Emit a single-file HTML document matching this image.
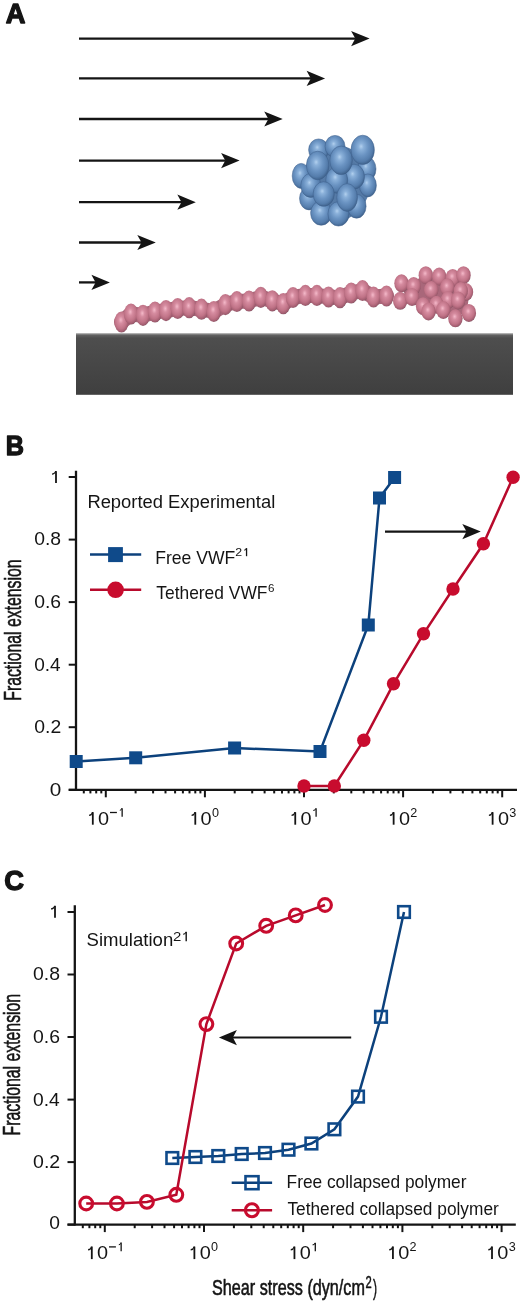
<!DOCTYPE html>
<html><head><meta charset="utf-8"><title>Figure</title>
<style>html,body{margin:0;padding:0;background:#fff;}svg{display:block;will-change:transform;}</style></head>
<body><svg width="520" height="1302" viewBox="0 0 520 1302">
<rect width="520" height="1302" fill="#fff"/>
<defs>
<radialGradient id="gb" cx="0.45" cy="0.42" r="0.6" fx="0.43" fy="0.38">
<stop offset="0" stop-color="#b2d0ee"/><stop offset="0.18" stop-color="#8bb1da"/>
<stop offset="0.5" stop-color="#6a93c2"/><stop offset="0.8" stop-color="#557dac"/><stop offset="0.94" stop-color="#446893"/><stop offset="1" stop-color="#385a84"/></radialGradient>
<radialGradient id="gp" cx="0.45" cy="0.42" r="0.6" fx="0.45" fy="0.4">
<stop offset="0" stop-color="#f4b9c9"/><stop offset="0.28" stop-color="#d68ca0"/>
<stop offset="0.68" stop-color="#c07387"/><stop offset="0.9" stop-color="#a25d70"/><stop offset="1" stop-color="#7f5160"/></radialGradient>
<linearGradient id="gs" x1="0" y1="0" x2="0" y2="1">
<stop offset="0" stop-color="#a8a8a8"/><stop offset="0.035" stop-color="#606060"/><stop offset="0.08" stop-color="#4e4e4e"/><stop offset="1" stop-color="#3f3f3f"/></linearGradient>
</defs>
<text x="5.77" y="23.15" font-family="Liberation Sans, sans-serif" font-weight="bold" font-size="27.7" textLength="19.73" lengthAdjust="spacingAndGlyphs" fill="#141414" stroke="#141414" stroke-width="1.3" stroke-linejoin="round">A</text>
<line x1="79" y1="38.6" x2="355.8" y2="38.6" stroke="#141414" stroke-width="2.3"/>
<polygon points="369.6,38.6 351.1,31.0 355.3,38.6 351.1,46.2" fill="#141414"/>
<line x1="79" y1="78.4" x2="311.3" y2="78.4" stroke="#141414" stroke-width="2.3"/>
<polygon points="325.1,78.4 306.6,70.8 310.8,78.4 306.6,86.0" fill="#141414"/>
<line x1="79" y1="119.0" x2="268.9" y2="119.0" stroke="#141414" stroke-width="2.3"/>
<polygon points="282.7,119.0 264.2,111.4 268.4,119.0 264.2,126.6" fill="#141414"/>
<line x1="79" y1="160.6" x2="225.8" y2="160.6" stroke="#141414" stroke-width="2.3"/>
<polygon points="239.6,160.6 221.1,153.0 225.3,160.6 221.1,168.2" fill="#141414"/>
<line x1="79" y1="202.2" x2="182.0" y2="202.2" stroke="#141414" stroke-width="2.3"/>
<polygon points="195.8,202.2 177.3,194.6 181.5,202.2 177.3,209.8" fill="#141414"/>
<line x1="79" y1="242.5" x2="142.0" y2="242.5" stroke="#141414" stroke-width="2.3"/>
<polygon points="155.8,242.5 137.3,234.9 141.5,242.5 137.3,250.1" fill="#141414"/>
<line x1="79" y1="282.4" x2="96.1" y2="282.4" stroke="#141414" stroke-width="2.3"/>
<polygon points="109.9,282.4 91.4,274.8 95.6,282.4 91.4,290.0" fill="#141414"/>
<rect x="76" y="333.2" width="437" height="61.6" fill="url(#gs)"/>
<polyline points="121.5,322 131,314 143,315.3 155,312 166,310.6 177.7,308.5 189.2,307.7 201.5,309.2 213.8,311.5 225.4,304.6 236.9,301.5 249,301 260.8,297.3 272.3,300.8 283.3,303.7 293,297.5 305.4,295.4 316.9,295.4 328.5,297 340,297.7 351.2,293 362.5,290.5 373.5,297 386.5,296" fill="none" stroke="#a9677a" stroke-width="15" stroke-linejoin="round" stroke-linecap="round"/>
<ellipse cx="121.5" cy="322" rx="7.1" ry="10.6" fill="url(#gp)"/>
<ellipse cx="131" cy="314" rx="7.1" ry="10.6" fill="url(#gp)"/>
<ellipse cx="143" cy="315.3" rx="7.1" ry="10.6" fill="url(#gp)"/>
<ellipse cx="155" cy="312" rx="7.1" ry="10.6" fill="url(#gp)"/>
<ellipse cx="166" cy="310.6" rx="7.1" ry="10.6" fill="url(#gp)"/>
<ellipse cx="177.7" cy="308.5" rx="7.1" ry="10.6" fill="url(#gp)"/>
<ellipse cx="189.2" cy="307.7" rx="7.1" ry="10.6" fill="url(#gp)"/>
<ellipse cx="201.5" cy="309.2" rx="7.1" ry="10.6" fill="url(#gp)"/>
<ellipse cx="213.8" cy="311.5" rx="7.1" ry="10.6" fill="url(#gp)"/>
<ellipse cx="225.4" cy="304.6" rx="7.1" ry="10.6" fill="url(#gp)"/>
<ellipse cx="236.9" cy="301.5" rx="7.1" ry="10.6" fill="url(#gp)"/>
<ellipse cx="249" cy="301" rx="7.1" ry="10.6" fill="url(#gp)"/>
<ellipse cx="260.8" cy="297.3" rx="7.1" ry="10.6" fill="url(#gp)"/>
<ellipse cx="272.3" cy="300.8" rx="7.1" ry="10.6" fill="url(#gp)"/>
<ellipse cx="283.3" cy="303.7" rx="7.1" ry="10.6" fill="url(#gp)"/>
<ellipse cx="293" cy="297.5" rx="7.1" ry="10.6" fill="url(#gp)"/>
<ellipse cx="305.4" cy="295.4" rx="7.1" ry="10.6" fill="url(#gp)"/>
<ellipse cx="316.9" cy="295.4" rx="7.1" ry="10.6" fill="url(#gp)"/>
<ellipse cx="328.5" cy="297" rx="7.1" ry="10.6" fill="url(#gp)"/>
<ellipse cx="340" cy="297.7" rx="7.1" ry="10.6" fill="url(#gp)"/>
<ellipse cx="351.2" cy="293" rx="7.1" ry="10.6" fill="url(#gp)"/>
<ellipse cx="362.5" cy="290.5" rx="7.1" ry="10.6" fill="url(#gp)"/>
<ellipse cx="373.5" cy="297" rx="7.1" ry="10.6" fill="url(#gp)"/>
<ellipse cx="386.5" cy="296" rx="7.1" ry="10.6" fill="url(#gp)"/>
<path d="M404,286 C412,278 440,272 462,276 C470,285 470,300 466,312 C458,318 440,314 428,310 C415,306 404,300 404,292 Z" fill="#a9677a"/>
<ellipse cx="401.5" cy="283.3" rx="7.2" ry="9" fill="url(#gp)"/>
<ellipse cx="413.7" cy="286" rx="7.2" ry="9" fill="url(#gp)"/>
<ellipse cx="425.8" cy="275.2" rx="7.2" ry="9" fill="url(#gp)"/>
<ellipse cx="439.2" cy="276.5" rx="7.2" ry="9" fill="url(#gp)"/>
<ellipse cx="452.7" cy="277.9" rx="7.2" ry="9" fill="url(#gp)"/>
<ellipse cx="463.5" cy="275.2" rx="7.2" ry="9" fill="url(#gp)"/>
<ellipse cx="466" cy="292" rx="7.2" ry="9" fill="url(#gp)"/>
<ellipse cx="447.3" cy="287.3" rx="7.2" ry="9" fill="url(#gp)"/>
<ellipse cx="431.2" cy="290" rx="7.2" ry="9" fill="url(#gp)"/>
<ellipse cx="460.8" cy="291" rx="7.2" ry="9" fill="url(#gp)"/>
<ellipse cx="400.2" cy="300.8" rx="7.2" ry="9" fill="url(#gp)"/>
<ellipse cx="412" cy="297" rx="7.2" ry="9" fill="url(#gp)"/>
<ellipse cx="448" cy="300" rx="7.2" ry="9" fill="url(#gp)"/>
<ellipse cx="458.1" cy="300.4" rx="7.2" ry="9" fill="url(#gp)"/>
<ellipse cx="423.1" cy="306.2" rx="7.2" ry="9" fill="url(#gp)"/>
<ellipse cx="436.5" cy="304.8" rx="7.2" ry="9" fill="url(#gp)"/>
<ellipse cx="428.5" cy="311.5" rx="7.2" ry="9" fill="url(#gp)"/>
<ellipse cx="443.3" cy="310" rx="7.2" ry="9" fill="url(#gp)"/>
<ellipse cx="468.9" cy="312.9" rx="7.2" ry="9" fill="url(#gp)"/>
<ellipse cx="455.4" cy="318.3" rx="7.2" ry="9" fill="url(#gp)"/>
<ellipse cx="336" cy="183" rx="34" ry="38" fill="#557aa6"/>
<ellipse cx="318.6" cy="149.9" rx="10" ry="11" fill="url(#gb)" stroke="#3d5f8a" stroke-width="0.5"/>
<ellipse cx="335.0" cy="146.4" rx="10" ry="11" fill="url(#gb)" stroke="#3d5f8a" stroke-width="0.5"/>
<ellipse cx="367.0" cy="168.9" rx="9" ry="12" fill="url(#gb)" stroke="#3d5f8a" stroke-width="0.5"/>
<ellipse cx="301.2" cy="175.9" rx="9" ry="12.5" fill="url(#gb)" stroke="#3d5f8a" stroke-width="0.5"/>
<ellipse cx="367.9" cy="185.4" rx="8.5" ry="11.5" fill="url(#gb)" stroke="#3d5f8a" stroke-width="0.5"/>
<ellipse cx="309.0" cy="198.4" rx="9.5" ry="11.5" fill="url(#gb)" stroke="#3d5f8a" stroke-width="0.5"/>
<ellipse cx="310.8" cy="185.4" rx="10" ry="12" fill="url(#gb)" stroke="#3d5f8a" stroke-width="0.5"/>
<ellipse cx="354.0" cy="176.7" rx="10.5" ry="12.5" fill="url(#gb)" stroke="#3d5f8a" stroke-width="0.5"/>
<ellipse cx="356.6" cy="206.2" rx="9.5" ry="12" fill="url(#gb)" stroke="#3d5f8a" stroke-width="0.5"/>
<ellipse cx="336.7" cy="180.2" rx="11" ry="13" fill="url(#gb)" stroke="#3d5f8a" stroke-width="0.5"/>
<ellipse cx="321.2" cy="213.1" rx="10.6" ry="12.2" fill="url(#gb)" stroke="#3d5f8a" stroke-width="0.5"/>
<ellipse cx="338.5" cy="213.9" rx="10.6" ry="12.2" fill="url(#gb)" stroke="#3d5f8a" stroke-width="0.5"/>
<ellipse cx="323.7" cy="194.0" rx="10.6" ry="12.3" fill="url(#gb)" stroke="#3d5f8a" stroke-width="0.5"/>
<ellipse cx="347.1" cy="197.5" rx="10.4" ry="13.9" fill="url(#gb)" stroke="#3d5f8a" stroke-width="0.5"/>
<ellipse cx="317.7" cy="165.5" rx="11.3" ry="14.3" fill="url(#gb)" stroke="#3d5f8a" stroke-width="0.5"/>
<ellipse cx="341.1" cy="160.3" rx="11.3" ry="14.3" fill="url(#gb)" stroke="#3d5f8a" stroke-width="0.5"/>
<ellipse cx="362.7" cy="149.9" rx="11.7" ry="14.7" fill="url(#gb)" stroke="#3d5f8a" stroke-width="0.5"/>
<text x="5.75" y="454.75" font-family="Liberation Sans, sans-serif" font-weight="bold" font-size="27.5" textLength="18.23" lengthAdjust="spacingAndGlyphs" fill="#141414" stroke="#141414" stroke-width="1.3" stroke-linejoin="round">B</text>
<line x1="76" y1="470.8" x2="76" y2="790.8" stroke="#141414" stroke-width="2.3"/>
<line x1="68.7" y1="789.8" x2="517" y2="789.8" stroke="#141414" stroke-width="2.3"/>
<line x1="68.7" y1="789.8" x2="76" y2="789.8" stroke="#141414" stroke-width="2"/>
<line x1="68.7" y1="727.2" x2="76" y2="727.2" stroke="#141414" stroke-width="2"/>
<line x1="68.7" y1="664.7" x2="76" y2="664.7" stroke="#141414" stroke-width="2"/>
<line x1="68.7" y1="602.1" x2="76" y2="602.1" stroke="#141414" stroke-width="2"/>
<line x1="68.7" y1="539.6" x2="76" y2="539.6" stroke="#141414" stroke-width="2"/>
<line x1="68.7" y1="477.0" x2="76" y2="477.0" stroke="#141414" stroke-width="2"/>
<path d="M56.00,482.90 V471.30" fill="none" stroke="#141414" stroke-width="1.8"/>
<path d="M56.90,471.00 L55.10,471.00 C54.49,472.89 53.51,473.17 52.00,473.46 L52.00,474.68 C53.89,474.49 55.06,474.02 55.10,473.08 Z" fill="#141414"/>
<text x="34.23" y="545.40" font-family="Liberation Sans, sans-serif" font-size="18.2" textLength="26.90" lengthAdjust="spacingAndGlyphs" fill="#141414">0.8</text>
<text x="34.23" y="608.00" font-family="Liberation Sans, sans-serif" font-size="18.2" textLength="26.90" lengthAdjust="spacingAndGlyphs" fill="#141414">0.6</text>
<text x="34.24" y="670.50" font-family="Liberation Sans, sans-serif" font-size="18.2" textLength="26.49" lengthAdjust="spacingAndGlyphs" fill="#141414">0.4</text>
<text x="34.22" y="732.90" font-family="Liberation Sans, sans-serif" font-size="18.2" textLength="26.95" lengthAdjust="spacingAndGlyphs" fill="#141414">0.2</text>
<text x="49.77" y="795.60" font-family="Liberation Sans, sans-serif" font-size="18.2" textLength="11.53" lengthAdjust="spacingAndGlyphs" fill="#141414">0</text>
<line x1="83.8" y1="789.8" x2="83.8" y2="793.4" stroke="#141414" stroke-width="2"/>
<line x1="90.4" y1="789.8" x2="90.4" y2="793.4" stroke="#141414" stroke-width="2"/>
<line x1="96.2" y1="789.8" x2="96.2" y2="793.4" stroke="#141414" stroke-width="2"/>
<line x1="101.3" y1="789.8" x2="101.3" y2="793.4" stroke="#141414" stroke-width="2"/>
<line x1="105.8" y1="789.8" x2="105.8" y2="797.3" stroke="#141414" stroke-width="2"/>
<line x1="135.6" y1="789.8" x2="135.6" y2="793.4" stroke="#141414" stroke-width="2"/>
<line x1="153.1" y1="789.8" x2="153.1" y2="793.4" stroke="#141414" stroke-width="2"/>
<line x1="165.5" y1="789.8" x2="165.5" y2="793.4" stroke="#141414" stroke-width="2"/>
<line x1="175.1" y1="789.8" x2="175.1" y2="793.4" stroke="#141414" stroke-width="2"/>
<line x1="182.9" y1="789.8" x2="182.9" y2="793.4" stroke="#141414" stroke-width="2"/>
<line x1="189.5" y1="789.8" x2="189.5" y2="793.4" stroke="#141414" stroke-width="2"/>
<line x1="195.3" y1="789.8" x2="195.3" y2="793.4" stroke="#141414" stroke-width="2"/>
<line x1="200.4" y1="789.8" x2="200.4" y2="793.4" stroke="#141414" stroke-width="2"/>
<line x1="204.9" y1="789.8" x2="204.9" y2="797.3" stroke="#141414" stroke-width="2"/>
<line x1="234.7" y1="789.8" x2="234.7" y2="793.4" stroke="#141414" stroke-width="2"/>
<line x1="252.2" y1="789.8" x2="252.2" y2="793.4" stroke="#141414" stroke-width="2"/>
<line x1="264.6" y1="789.8" x2="264.6" y2="793.4" stroke="#141414" stroke-width="2"/>
<line x1="274.2" y1="789.8" x2="274.2" y2="793.4" stroke="#141414" stroke-width="2"/>
<line x1="282.0" y1="789.8" x2="282.0" y2="793.4" stroke="#141414" stroke-width="2"/>
<line x1="288.6" y1="789.8" x2="288.6" y2="793.4" stroke="#141414" stroke-width="2"/>
<line x1="294.4" y1="789.8" x2="294.4" y2="793.4" stroke="#141414" stroke-width="2"/>
<line x1="299.5" y1="789.8" x2="299.5" y2="793.4" stroke="#141414" stroke-width="2"/>
<line x1="304.0" y1="789.8" x2="304.0" y2="797.3" stroke="#141414" stroke-width="2"/>
<line x1="333.8" y1="789.8" x2="333.8" y2="793.4" stroke="#141414" stroke-width="2"/>
<line x1="351.3" y1="789.8" x2="351.3" y2="793.4" stroke="#141414" stroke-width="2"/>
<line x1="363.7" y1="789.8" x2="363.7" y2="793.4" stroke="#141414" stroke-width="2"/>
<line x1="373.3" y1="789.8" x2="373.3" y2="793.4" stroke="#141414" stroke-width="2"/>
<line x1="381.1" y1="789.8" x2="381.1" y2="793.4" stroke="#141414" stroke-width="2"/>
<line x1="387.7" y1="789.8" x2="387.7" y2="793.4" stroke="#141414" stroke-width="2"/>
<line x1="393.5" y1="789.8" x2="393.5" y2="793.4" stroke="#141414" stroke-width="2"/>
<line x1="398.6" y1="789.8" x2="398.6" y2="793.4" stroke="#141414" stroke-width="2"/>
<line x1="403.1" y1="789.8" x2="403.1" y2="797.3" stroke="#141414" stroke-width="2"/>
<line x1="432.9" y1="789.8" x2="432.9" y2="793.4" stroke="#141414" stroke-width="2"/>
<line x1="450.4" y1="789.8" x2="450.4" y2="793.4" stroke="#141414" stroke-width="2"/>
<line x1="462.8" y1="789.8" x2="462.8" y2="793.4" stroke="#141414" stroke-width="2"/>
<line x1="472.4" y1="789.8" x2="472.4" y2="793.4" stroke="#141414" stroke-width="2"/>
<line x1="480.2" y1="789.8" x2="480.2" y2="793.4" stroke="#141414" stroke-width="2"/>
<line x1="486.8" y1="789.8" x2="486.8" y2="793.4" stroke="#141414" stroke-width="2"/>
<line x1="492.6" y1="789.8" x2="492.6" y2="793.4" stroke="#141414" stroke-width="2"/>
<line x1="497.7" y1="789.8" x2="497.7" y2="793.4" stroke="#141414" stroke-width="2"/>
<line x1="502.2" y1="789.8" x2="502.2" y2="797.3" stroke="#141414" stroke-width="2"/>
<path d="M92.80,824.70 V812.40" fill="none" stroke="#141414" stroke-width="1.8"/>
<path d="M93.70,812.10 L91.90,812.10 C91.20,814.10 90.70,814.40 89.10,814.70 L89.10,816.00 C91.10,815.80 91.80,815.30 91.90,814.30 Z" fill="#141414"/>
<text x="98.10" y="824.85" font-family="Liberation Sans, sans-serif" font-size="18.6" textLength="11.07" lengthAdjust="spacingAndGlyphs" fill="#141414">0</text>
<line x1="110.00" y1="812.50" x2="116.90" y2="812.50" stroke="#141414" stroke-width="1.3"/>
<path d="M122.15,816.80 V808.40" fill="none" stroke="#141414" stroke-width="1.3"/>
<path d="M122.80,808.10 L121.50,808.10 C121.05,809.48 120.90,809.69 119.80,809.90 L119.80,810.79 C121.18,810.65 121.46,810.31 121.50,809.62 Z" fill="#141414"/>
<path d="M195.29,824.70 V812.40" fill="none" stroke="#141414" stroke-width="1.8"/>
<path d="M196.19,812.10 L194.39,812.10 C193.69,814.10 193.19,814.40 191.59,814.70 L191.59,816.00 C193.59,815.80 194.29,815.30 194.39,814.30 Z" fill="#141414"/>
<text x="200.60" y="824.85" font-family="Liberation Sans, sans-serif" font-size="18.6" textLength="11.07" lengthAdjust="spacingAndGlyphs" fill="#141414">0</text>
<text x="211.99" y="816.80" font-family="Liberation Sans, sans-serif" font-size="12.6" fill="#141414">0</text>
<path d="M295.25,824.70 V812.40" fill="none" stroke="#141414" stroke-width="1.8"/>
<path d="M296.15,812.10 L294.35,812.10 C293.65,814.10 293.15,814.40 291.55,814.70 L291.55,816.00 C293.55,815.80 294.25,815.30 294.35,814.30 Z" fill="#141414"/>
<text x="300.55" y="824.85" font-family="Liberation Sans, sans-serif" font-size="18.6" textLength="11.07" lengthAdjust="spacingAndGlyphs" fill="#141414">0</text>
<path d="M316.10,816.80 V808.60" fill="none" stroke="#141414" stroke-width="1.3"/>
<path d="M316.75,808.30 L315.45,808.30 C315.02,809.65 314.33,809.85 313.25,810.05 L313.25,810.93 C314.60,810.80 315.43,810.46 315.45,809.78 Z" fill="#141414"/>
<path d="M393.63,824.70 V812.40" fill="none" stroke="#141414" stroke-width="1.8"/>
<path d="M394.53,812.10 L392.73,812.10 C392.03,814.10 391.53,814.40 389.93,814.70 L389.93,816.00 C391.93,815.80 392.63,815.30 392.73,814.30 Z" fill="#141414"/>
<text x="398.94" y="824.85" font-family="Liberation Sans, sans-serif" font-size="18.6" textLength="11.07" lengthAdjust="spacingAndGlyphs" fill="#141414">0</text>
<text x="410.20" y="816.80" font-family="Liberation Sans, sans-serif" font-size="12.6" fill="#141414">2</text>
<path d="M492.61,824.70 V812.40" fill="none" stroke="#141414" stroke-width="1.8"/>
<path d="M493.51,812.10 L491.71,812.10 C491.01,814.10 490.51,814.40 488.91,814.70 L488.91,816.00 C490.91,815.80 491.61,815.30 491.71,814.30 Z" fill="#141414"/>
<text x="497.91" y="824.85" font-family="Liberation Sans, sans-serif" font-size="18.6" textLength="11.07" lengthAdjust="spacingAndGlyphs" fill="#141414">0</text>
<text x="509.33" y="816.80" font-family="Liberation Sans, sans-serif" font-size="12.6" fill="#141414">3</text>
<text transform="translate(20.7 699.4000000000001) rotate(-90)" x="-1.30" y="0" font-family="Liberation Sans, sans-serif" font-size="23.2" textLength="141.26" lengthAdjust="spacingAndGlyphs" fill="#141414" stroke="#141414" stroke-width="0.6" stroke-linejoin="round">Fractional extension</text>
<polyline points="76.2,761.5 135.7,757.8 234.6,748 320,751.5 368.3,625 379.5,498 394.6,477.5" fill="none" stroke="#0c417c" stroke-width="2.5"/>
<rect x="69.7" y="755.0" width="13" height="13" fill="#0f4a8a"/>
<rect x="129.2" y="751.3" width="13" height="13" fill="#0f4a8a"/>
<rect x="228.1" y="741.5" width="13" height="13" fill="#0f4a8a"/>
<rect x="313.5" y="745.0" width="13" height="13" fill="#0f4a8a"/>
<rect x="361.8" y="618.5" width="13" height="13" fill="#0f4a8a"/>
<rect x="373.0" y="491.5" width="13" height="13" fill="#0f4a8a"/>
<rect x="388.1" y="471.0" width="13" height="13" fill="#0f4a8a"/>
<polyline points="304,786 334.3,786 363.8,740.3 393.5,683.8 423.5,633.8 453,589 483.4,543.8 513.1,477.2" fill="none" stroke="#b80a2c" stroke-width="2.5"/>
<circle cx="304" cy="786" r="6.7" fill="#c80c2e"/>
<circle cx="334.3" cy="786" r="6.7" fill="#c80c2e"/>
<circle cx="363.8" cy="740.3" r="6.7" fill="#c80c2e"/>
<circle cx="393.5" cy="683.8" r="6.7" fill="#c80c2e"/>
<circle cx="423.5" cy="633.8" r="6.7" fill="#c80c2e"/>
<circle cx="453" cy="589" r="6.7" fill="#c80c2e"/>
<circle cx="483.4" cy="543.8" r="6.7" fill="#c80c2e"/>
<circle cx="513.1" cy="477.2" r="6.7" fill="#c80c2e"/>
<text x="87.38" y="507.50" font-family="Liberation Sans, sans-serif" font-size="18.9" textLength="187.86" lengthAdjust="spacingAndGlyphs" fill="#141414">Reported Experimental</text>
<line x1="90" y1="554.5" x2="141.2" y2="554.5" stroke="#0c417c" stroke-width="2.4"/>
<rect x="108.1" y="547.1" width="14.8" height="15" fill="#0f4a8a"/>
<line x1="90" y1="589.8" x2="141.2" y2="589.8" stroke="#b80a2c" stroke-width="2.4"/>
<circle cx="115.6" cy="589.8" r="8.3" fill="#c80c2e"/>
<text x="155.25" y="563.70" font-family="Liberation Sans, sans-serif" font-size="19" textLength="80.07" lengthAdjust="spacingAndGlyphs" fill="#141414">Free VWF</text>
<text x="235.18" y="555.80" font-family="Liberation Sans, sans-serif" font-size="11.8" textLength="6.85" lengthAdjust="spacingAndGlyphs" fill="#141414">2</text>
<path d="M246.55,556.20 V548.30" fill="none" stroke="#141414" stroke-width="1.3"/>
<path d="M247.20,548.00 L245.90,548.00 C245.51,549.30 245.14,549.50 244.10,549.69 L244.10,550.54 C245.40,550.41 245.90,550.08 245.90,549.43 Z" fill="#141414"/>
<text x="156.31" y="599.20" font-family="Liberation Sans, sans-serif" font-size="19" textLength="111.11" lengthAdjust="spacingAndGlyphs" fill="#141414">Tethered VWF</text>
<text x="268.12" y="591.70" font-family="Liberation Sans, sans-serif" font-size="11.5" textLength="6.49" lengthAdjust="spacingAndGlyphs" fill="#141414">6</text>
<line x1="385" y1="531.6" x2="467.0" y2="531.6" stroke="#141414" stroke-width="2.3"/>
<polygon points="480.8,531.6 462.3,524.0 466.5,531.6 462.3,539.2" fill="#141414"/>
<text x="4.36" y="889.85" font-family="Liberation Sans, sans-serif" font-weight="bold" font-size="27.5" textLength="19.74" lengthAdjust="spacingAndGlyphs" fill="#141414" stroke="#141414" stroke-width="1.3" stroke-linejoin="round">C</text>
<line x1="74.8" y1="905.2" x2="74.8" y2="1225.6" stroke="#141414" stroke-width="2.3"/>
<line x1="67.5" y1="1224.6" x2="515.8" y2="1224.6" stroke="#141414" stroke-width="2.3"/>
<line x1="67.5" y1="1224.6" x2="74.8" y2="1224.6" stroke="#141414" stroke-width="2"/>
<line x1="67.5" y1="1162.1" x2="74.8" y2="1162.1" stroke="#141414" stroke-width="2"/>
<line x1="67.5" y1="1099.6" x2="74.8" y2="1099.6" stroke="#141414" stroke-width="2"/>
<line x1="67.5" y1="1037.0" x2="74.8" y2="1037.0" stroke="#141414" stroke-width="2"/>
<line x1="67.5" y1="974.5" x2="74.8" y2="974.5" stroke="#141414" stroke-width="2"/>
<line x1="67.5" y1="912.0" x2="74.8" y2="912.0" stroke="#141414" stroke-width="2"/>
<path d="M55.00,917.70 V906.10" fill="none" stroke="#141414" stroke-width="1.8"/>
<path d="M55.90,905.80 L54.10,905.80 C53.49,907.69 52.51,907.97 51.00,908.26 L51.00,909.48 C52.89,909.29 54.06,908.82 54.10,907.88 Z" fill="#141414"/>
<text x="33.02" y="980.30" font-family="Liberation Sans, sans-serif" font-size="18.2" textLength="27.01" lengthAdjust="spacingAndGlyphs" fill="#141414">0.8</text>
<text x="33.02" y="1042.90" font-family="Liberation Sans, sans-serif" font-size="18.2" textLength="27.01" lengthAdjust="spacingAndGlyphs" fill="#141414">0.6</text>
<text x="33.03" y="1105.50" font-family="Liberation Sans, sans-serif" font-size="18.2" textLength="26.70" lengthAdjust="spacingAndGlyphs" fill="#141414">0.4</text>
<text x="33.02" y="1168.00" font-family="Liberation Sans, sans-serif" font-size="18.2" textLength="27.16" lengthAdjust="spacingAndGlyphs" fill="#141414">0.2</text>
<text x="49.23" y="1229.40" font-family="Liberation Sans, sans-serif" font-size="18.2" textLength="10.72" lengthAdjust="spacingAndGlyphs" fill="#141414">0</text>
<line x1="82.8" y1="1224.6" x2="82.8" y2="1228.1999999999998" stroke="#141414" stroke-width="2"/>
<line x1="89.4" y1="1224.6" x2="89.4" y2="1228.1999999999998" stroke="#141414" stroke-width="2"/>
<line x1="95.2" y1="1224.6" x2="95.2" y2="1228.1999999999998" stroke="#141414" stroke-width="2"/>
<line x1="100.3" y1="1224.6" x2="100.3" y2="1228.1999999999998" stroke="#141414" stroke-width="2"/>
<line x1="104.8" y1="1224.6" x2="104.8" y2="1232.1" stroke="#141414" stroke-width="2"/>
<line x1="134.7" y1="1224.6" x2="134.7" y2="1228.1999999999998" stroke="#141414" stroke-width="2"/>
<line x1="152.1" y1="1224.6" x2="152.1" y2="1228.1999999999998" stroke="#141414" stroke-width="2"/>
<line x1="164.5" y1="1224.6" x2="164.5" y2="1228.1999999999998" stroke="#141414" stroke-width="2"/>
<line x1="174.1" y1="1224.6" x2="174.1" y2="1228.1999999999998" stroke="#141414" stroke-width="2"/>
<line x1="182.0" y1="1224.6" x2="182.0" y2="1228.1999999999998" stroke="#141414" stroke-width="2"/>
<line x1="188.6" y1="1224.6" x2="188.6" y2="1228.1999999999998" stroke="#141414" stroke-width="2"/>
<line x1="194.4" y1="1224.6" x2="194.4" y2="1228.1999999999998" stroke="#141414" stroke-width="2"/>
<line x1="199.5" y1="1224.6" x2="199.5" y2="1228.1999999999998" stroke="#141414" stroke-width="2"/>
<line x1="204.0" y1="1224.6" x2="204.0" y2="1232.1" stroke="#141414" stroke-width="2"/>
<line x1="233.9" y1="1224.6" x2="233.9" y2="1228.1999999999998" stroke="#141414" stroke-width="2"/>
<line x1="251.3" y1="1224.6" x2="251.3" y2="1228.1999999999998" stroke="#141414" stroke-width="2"/>
<line x1="263.7" y1="1224.6" x2="263.7" y2="1228.1999999999998" stroke="#141414" stroke-width="2"/>
<line x1="273.3" y1="1224.6" x2="273.3" y2="1228.1999999999998" stroke="#141414" stroke-width="2"/>
<line x1="281.2" y1="1224.6" x2="281.2" y2="1228.1999999999998" stroke="#141414" stroke-width="2"/>
<line x1="287.8" y1="1224.6" x2="287.8" y2="1228.1999999999998" stroke="#141414" stroke-width="2"/>
<line x1="293.6" y1="1224.6" x2="293.6" y2="1228.1999999999998" stroke="#141414" stroke-width="2"/>
<line x1="298.7" y1="1224.6" x2="298.7" y2="1228.1999999999998" stroke="#141414" stroke-width="2"/>
<line x1="303.2" y1="1224.6" x2="303.2" y2="1232.1" stroke="#141414" stroke-width="2"/>
<line x1="333.1" y1="1224.6" x2="333.1" y2="1228.1999999999998" stroke="#141414" stroke-width="2"/>
<line x1="350.5" y1="1224.6" x2="350.5" y2="1228.1999999999998" stroke="#141414" stroke-width="2"/>
<line x1="362.9" y1="1224.6" x2="362.9" y2="1228.1999999999998" stroke="#141414" stroke-width="2"/>
<line x1="372.5" y1="1224.6" x2="372.5" y2="1228.1999999999998" stroke="#141414" stroke-width="2"/>
<line x1="380.4" y1="1224.6" x2="380.4" y2="1228.1999999999998" stroke="#141414" stroke-width="2"/>
<line x1="387.0" y1="1224.6" x2="387.0" y2="1228.1999999999998" stroke="#141414" stroke-width="2"/>
<line x1="392.8" y1="1224.6" x2="392.8" y2="1228.1999999999998" stroke="#141414" stroke-width="2"/>
<line x1="397.9" y1="1224.6" x2="397.9" y2="1228.1999999999998" stroke="#141414" stroke-width="2"/>
<line x1="402.4" y1="1224.6" x2="402.4" y2="1232.1" stroke="#141414" stroke-width="2"/>
<line x1="432.3" y1="1224.6" x2="432.3" y2="1228.1999999999998" stroke="#141414" stroke-width="2"/>
<line x1="449.7" y1="1224.6" x2="449.7" y2="1228.1999999999998" stroke="#141414" stroke-width="2"/>
<line x1="462.1" y1="1224.6" x2="462.1" y2="1228.1999999999998" stroke="#141414" stroke-width="2"/>
<line x1="471.7" y1="1224.6" x2="471.7" y2="1228.1999999999998" stroke="#141414" stroke-width="2"/>
<line x1="479.6" y1="1224.6" x2="479.6" y2="1228.1999999999998" stroke="#141414" stroke-width="2"/>
<line x1="486.2" y1="1224.6" x2="486.2" y2="1228.1999999999998" stroke="#141414" stroke-width="2"/>
<line x1="492.0" y1="1224.6" x2="492.0" y2="1228.1999999999998" stroke="#141414" stroke-width="2"/>
<line x1="497.1" y1="1224.6" x2="497.1" y2="1228.1999999999998" stroke="#141414" stroke-width="2"/>
<line x1="501.6" y1="1224.6" x2="501.6" y2="1232.1" stroke="#141414" stroke-width="2"/>
<path d="M91.80,1259.10 V1246.80" fill="none" stroke="#141414" stroke-width="1.8"/>
<path d="M92.70,1246.50 L90.90,1246.50 C90.20,1248.50 89.70,1248.80 88.10,1249.10 L88.10,1250.40 C90.10,1250.20 90.80,1249.70 90.90,1248.70 Z" fill="#141414"/>
<text x="97.10" y="1259.25" font-family="Liberation Sans, sans-serif" font-size="18.6" textLength="11.07" lengthAdjust="spacingAndGlyphs" fill="#141414">0</text>
<line x1="109.00" y1="1246.90" x2="115.90" y2="1246.90" stroke="#141414" stroke-width="1.3"/>
<path d="M121.15,1251.20 V1242.80" fill="none" stroke="#141414" stroke-width="1.3"/>
<path d="M121.80,1242.50 L120.50,1242.50 C120.05,1243.88 119.90,1244.09 118.80,1244.30 L118.80,1245.19 C120.18,1245.05 120.46,1244.71 120.50,1244.02 Z" fill="#141414"/>
<path d="M194.39,1259.10 V1246.80" fill="none" stroke="#141414" stroke-width="1.8"/>
<path d="M195.29,1246.50 L193.49,1246.50 C192.79,1248.50 192.29,1248.80 190.69,1249.10 L190.69,1250.40 C192.69,1250.20 193.39,1249.70 193.49,1248.70 Z" fill="#141414"/>
<text x="199.70" y="1259.25" font-family="Liberation Sans, sans-serif" font-size="18.6" textLength="11.07" lengthAdjust="spacingAndGlyphs" fill="#141414">0</text>
<text x="211.09" y="1251.20" font-family="Liberation Sans, sans-serif" font-size="12.6" fill="#141414">0</text>
<path d="M294.45,1259.10 V1246.80" fill="none" stroke="#141414" stroke-width="1.8"/>
<path d="M295.35,1246.50 L293.55,1246.50 C292.85,1248.50 292.35,1248.80 290.75,1249.10 L290.75,1250.40 C292.75,1250.20 293.45,1249.70 293.55,1248.70 Z" fill="#141414"/>
<text x="299.75" y="1259.25" font-family="Liberation Sans, sans-serif" font-size="18.6" textLength="11.07" lengthAdjust="spacingAndGlyphs" fill="#141414">0</text>
<path d="M315.30,1251.20 V1243.00" fill="none" stroke="#141414" stroke-width="1.3"/>
<path d="M315.95,1242.70 L314.65,1242.70 C314.22,1244.05 313.53,1244.25 312.45,1244.45 L312.45,1245.33 C313.80,1245.20 314.63,1244.86 314.65,1244.18 Z" fill="#141414"/>
<path d="M392.93,1259.10 V1246.80" fill="none" stroke="#141414" stroke-width="1.8"/>
<path d="M393.83,1246.50 L392.03,1246.50 C391.33,1248.50 390.83,1248.80 389.23,1249.10 L389.23,1250.40 C391.23,1250.20 391.93,1249.70 392.03,1248.70 Z" fill="#141414"/>
<text x="398.24" y="1259.25" font-family="Liberation Sans, sans-serif" font-size="18.6" textLength="11.07" lengthAdjust="spacingAndGlyphs" fill="#141414">0</text>
<text x="409.50" y="1251.20" font-family="Liberation Sans, sans-serif" font-size="12.6" fill="#141414">2</text>
<path d="M492.01,1259.10 V1246.80" fill="none" stroke="#141414" stroke-width="1.8"/>
<path d="M492.91,1246.50 L491.11,1246.50 C490.41,1248.50 489.91,1248.80 488.31,1249.10 L488.31,1250.40 C490.31,1250.20 491.01,1249.70 491.11,1248.70 Z" fill="#141414"/>
<text x="497.31" y="1259.25" font-family="Liberation Sans, sans-serif" font-size="18.6" textLength="11.07" lengthAdjust="spacingAndGlyphs" fill="#141414">0</text>
<text x="508.74" y="1251.20" font-family="Liberation Sans, sans-serif" font-size="12.6" fill="#141414">3</text>
<text transform="translate(20.0 1134.1000000000001) rotate(-90)" x="-1.31" y="0" font-family="Liberation Sans, sans-serif" font-size="23.2" textLength="141.57" lengthAdjust="spacingAndGlyphs" fill="#141414" stroke="#141414" stroke-width="0.6" stroke-linejoin="round">Fractional extension</text>
<polyline points="172.3,1158 195.4,1157 218.3,1156 241.7,1154 265,1153 288.5,1149.7 311.4,1143.5 334.4,1129.3 358,1096.6 381,1016.8 404,912" fill="none" stroke="#0c417c" stroke-width="2.5"/>
<rect x="166.5" y="1152.2" width="11.6" height="11.6" fill="none" stroke="#0f4a8a" stroke-width="2.6"/>
<rect x="189.6" y="1151.2" width="11.6" height="11.6" fill="none" stroke="#0f4a8a" stroke-width="2.6"/>
<rect x="212.5" y="1150.2" width="11.6" height="11.6" fill="none" stroke="#0f4a8a" stroke-width="2.6"/>
<rect x="235.89999999999998" y="1148.2" width="11.6" height="11.6" fill="none" stroke="#0f4a8a" stroke-width="2.6"/>
<rect x="259.2" y="1147.2" width="11.6" height="11.6" fill="none" stroke="#0f4a8a" stroke-width="2.6"/>
<rect x="282.7" y="1143.9" width="11.6" height="11.6" fill="none" stroke="#0f4a8a" stroke-width="2.6"/>
<rect x="305.59999999999997" y="1137.7" width="11.6" height="11.6" fill="none" stroke="#0f4a8a" stroke-width="2.6"/>
<rect x="328.59999999999997" y="1123.5" width="11.6" height="11.6" fill="none" stroke="#0f4a8a" stroke-width="2.6"/>
<rect x="352.2" y="1090.8" width="11.6" height="11.6" fill="none" stroke="#0f4a8a" stroke-width="2.6"/>
<rect x="375.2" y="1011.0" width="11.6" height="11.6" fill="none" stroke="#0f4a8a" stroke-width="2.6"/>
<rect x="398.2" y="906.2" width="11.6" height="11.6" fill="none" stroke="#0f4a8a" stroke-width="2.6"/>
<polyline points="86.2,1203.5 116.9,1203.5 146.9,1201.9 176.3,1194.8 206.4,1024.1 236.2,943.5 266.2,925.8 295.7,915.4 325,905" fill="none" stroke="#b80a2c" stroke-width="2.5"/>
<circle cx="86.2" cy="1203.5" r="6.4" fill="none" stroke="#c80c2e" stroke-width="3.1"/>
<circle cx="116.9" cy="1203.5" r="6.4" fill="none" stroke="#c80c2e" stroke-width="3.1"/>
<circle cx="146.9" cy="1201.9" r="6.4" fill="none" stroke="#c80c2e" stroke-width="3.1"/>
<circle cx="176.3" cy="1194.8" r="6.4" fill="none" stroke="#c80c2e" stroke-width="3.1"/>
<circle cx="206.4" cy="1024.1" r="6.4" fill="none" stroke="#c80c2e" stroke-width="3.1"/>
<circle cx="236.2" cy="943.5" r="6.4" fill="none" stroke="#c80c2e" stroke-width="3.1"/>
<circle cx="266.2" cy="925.8" r="6.4" fill="none" stroke="#c80c2e" stroke-width="3.1"/>
<circle cx="295.7" cy="915.4" r="6.4" fill="none" stroke="#c80c2e" stroke-width="3.1"/>
<circle cx="325" cy="905" r="6.4" fill="none" stroke="#c80c2e" stroke-width="3.1"/>
<text x="86.56" y="946.20" font-family="Liberation Sans, sans-serif" font-size="19" textLength="86.67" lengthAdjust="spacingAndGlyphs" fill="#141414">Simulation</text>
<text x="173.05" y="941.20" font-family="Liberation Sans, sans-serif" font-size="13.6" textLength="8.31" lengthAdjust="spacingAndGlyphs" fill="#141414">2</text>
<path d="M186.20,941.30 V932.10" fill="none" stroke="#141414" stroke-width="1.4"/>
<path d="M186.90,931.80 L185.50,931.80 C184.99,933.31 184.31,933.53 183.10,933.76 L183.10,934.74 C184.61,934.59 185.45,934.21 185.50,933.46 Z" fill="#141414"/>
<line x1="231.7" y1="1182.7" x2="272.1" y2="1182.7" stroke="#0c417c" stroke-width="2.4"/>
<rect x="245.5" y="1176.2" width="13" height="13" fill="none" stroke="#0f4a8a" stroke-width="2.6"/>
<line x1="231.7" y1="1210.2" x2="272.1" y2="1210.2" stroke="#b80a2c" stroke-width="2.4"/>
<circle cx="251.9" cy="1210.2" r="6.5" fill="none" stroke="#c80c2e" stroke-width="3.1"/>
<text x="286.57" y="1188.10" font-family="Liberation Sans, sans-serif" font-size="18.5" textLength="179.91" lengthAdjust="spacingAndGlyphs" fill="#141414">Free collapsed polymer</text>
<text x="287.41" y="1214.60" font-family="Liberation Sans, sans-serif" font-size="18.3" textLength="211.34" lengthAdjust="spacingAndGlyphs" fill="#141414">Tethered collapsed polymer</text>
<line x1="351.2" y1="1037.6" x2="232.4" y2="1037.6" stroke="#141414" stroke-width="2"/>
<polygon points="218.9,1037.6 236.9,1029.9 232.9,1037.6 236.9,1045.3" fill="#141414"/>
<text x="212.07" y="1295.10" font-family="Liberation Sans, sans-serif" font-size="22.2" textLength="152.88" lengthAdjust="spacingAndGlyphs" fill="#141414" stroke="#141414" stroke-width="0.6" stroke-linejoin="round">Shear stress (dyn/cm</text>
<text x="365.59" y="1287.55" font-family="Liberation Sans, sans-serif" font-size="16.5" textLength="6.23" lengthAdjust="spacingAndGlyphs" fill="#141414" stroke="#141414" stroke-width="0.5" stroke-linejoin="round">2</text>
<text x="372.96" y="1295.15" font-family="Liberation Sans, sans-serif" font-size="22.3" textLength="4.06" lengthAdjust="spacingAndGlyphs" fill="#141414" stroke="#141414" stroke-width="0.5" stroke-linejoin="round">)</text>
</svg></body></html>
